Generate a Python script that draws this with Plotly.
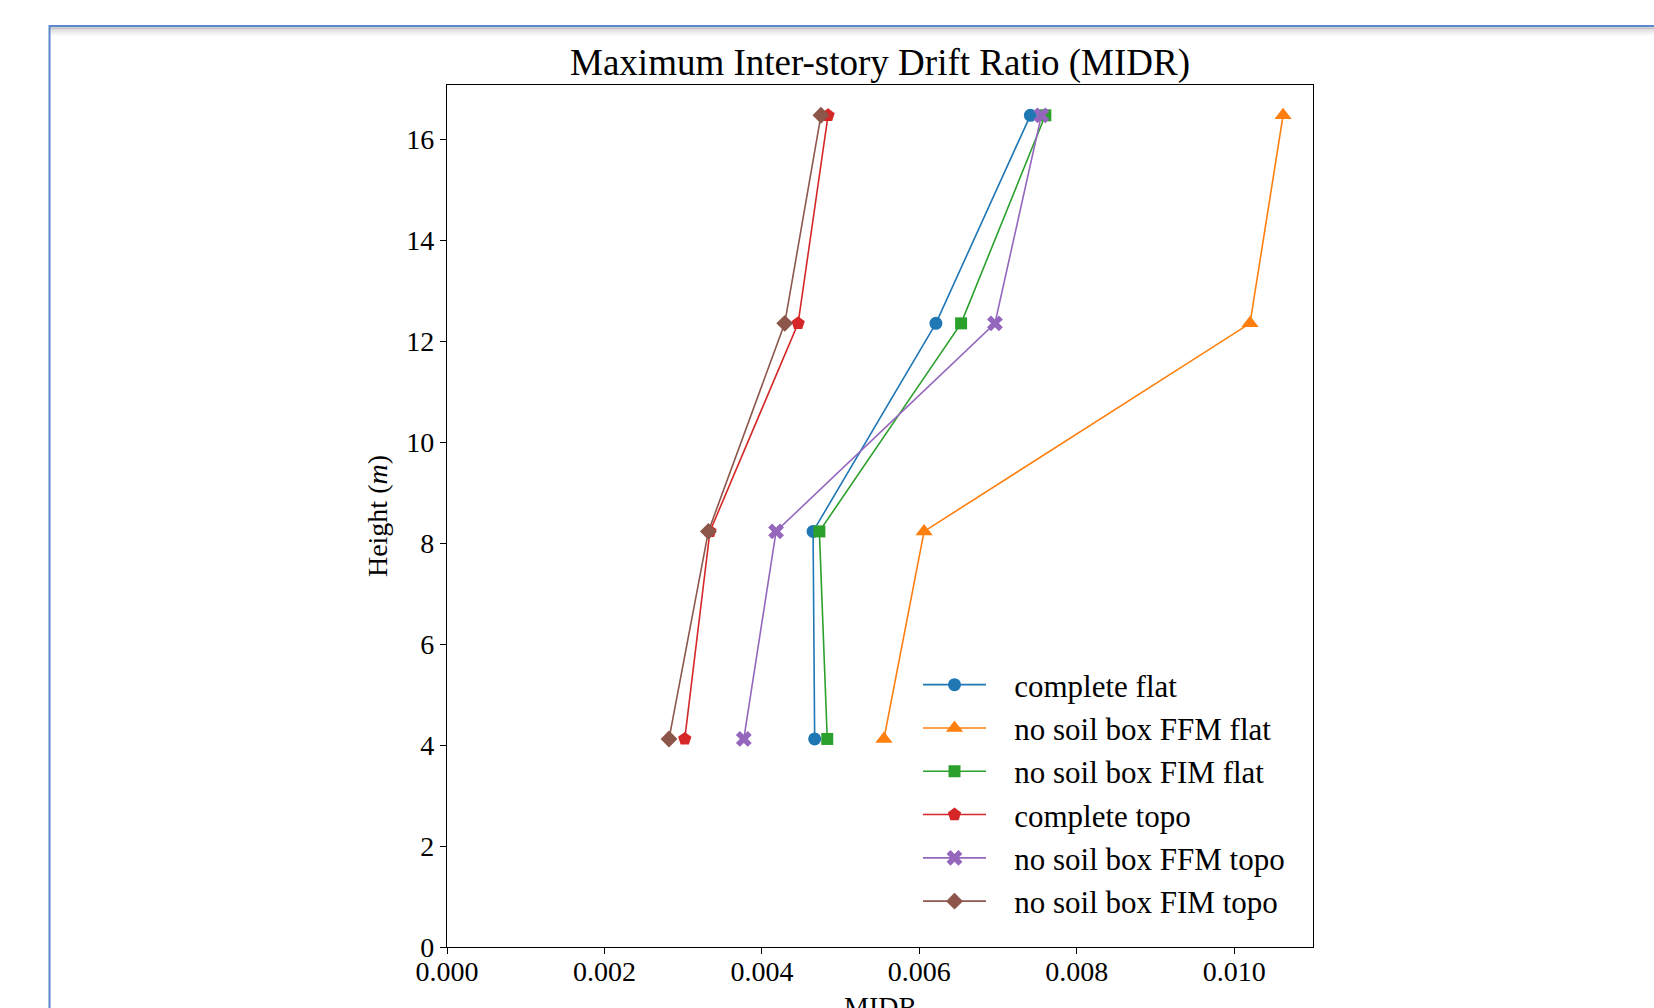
import plotly.graph_objects as go

# ---- data ----
heights = [4.12, 8.23, 12.35, 16.47]
complete_flat = [0.00467, 0.00465, 0.00621, 0.00741]
ffm_flat = [0.00555, 0.00606, 0.01020, 0.01062]
fim_flat = [0.00483, 0.00473, 0.00653, 0.00760]
complete_topo = [0.00302, 0.00334, 0.00446, 0.00484]
ffm_topo = [0.00377, 0.00418, 0.00696, 0.00755]
fim_topo = [0.00282, 0.00332, 0.00429, 0.00475]

series_names = ["complete flat", "no soil box FFM flat", "no soil box FIM flat",
                "complete topo", "no soil box FFM topo", "no soil box FIM topo"]
series_values = [complete_flat, ffm_flat, fim_flat, complete_topo, ffm_topo, fim_topo]
colors = ["#1f77b4", "#ff7f0e", "#2ca02c", "#d62728", "#9467bd", "#8c564b"]
symbols = ["circle", "triangle-up", "square", "pentagon", "x", "diamond"]
msizes = [13, 15, 12, 14, 14, 13]

x_ticks = [0.0, 0.002, 0.004, 0.006, 0.008, 0.010]
x_tick_labels = ["0.000", "0.002", "0.004", "0.006", "0.008", "0.010"]
y_ticks = [0, 2, 4, 6, 8, 10, 12, 14, 16]

FONT = "Liberation Serif"
W, H = 1654, 1008
L, R, T, B = 447, 1313, 85, 947
GAP = "\u00a0\u00a0\u00a0"

fig = go.Figure()
for name, vals, c, s, ms in zip(series_names, series_values, colors, symbols, msizes):
    fig.add_trace(go.Scatter(
        x=vals, y=heights, mode="lines+markers", name=GAP + name,
        line=dict(color=c, width=1.6),
        marker=dict(symbol=s, size=ms, color=c, line=dict(width=0)),
    ))

def px_x(p):
    return (p - L) / (R - L)

def px_y(p):
    return (B - p) / (B - T)

shapes = []
# page frame (blue) with soft shadow under top edge
for i, op in enumerate([0.18, 0.12, 0.08, 0.05, 0.03]):
    shapes.append(dict(type="line", xref="paper", yref="paper",
                       x0=px_x(50), x1=px_x(1660), y0=px_y(28 + i * 1.6), y1=px_y(28 + i * 1.6),
                       line=dict(color="rgba(0,0,0,%.2f)" % op, width=2)))
shapes.append(dict(type="line", xref="paper", yref="paper",
                   x0=px_x(49.5), x1=px_x(1660), y0=px_y(26), y1=px_y(26),
                   line=dict(color="#5a88cc", width=2)))
shapes.append(dict(type="line", xref="paper", yref="paper",
                   x0=px_x(49.5), x1=px_x(49.5), y0=px_y(25), y1=px_y(1015),
                   line=dict(color="#5a88cc", width=2)))

fig.update_layout(
    width=W, height=H,
    margin=dict(l=L, r=W - R, t=T, b=H - B, autoexpand=False),
    paper_bgcolor="white", plot_bgcolor="white",
    font=dict(family=FONT, size=28, color="black"),
    title=dict(text="Maximum Inter-story Drift Ratio (MIDR)",
               x=0.5, xref="paper", xanchor="center",
               y=1 - 62 / H, yref="container", yanchor="middle",
               font=dict(family=FONT, size=37, color="black")),
    xaxis=dict(range=[0, 0.011], tickvals=x_ticks, ticktext=x_tick_labels,
               showgrid=False, zeroline=False, showline=True, linecolor="black",
               linewidth=1.2, mirror=True, ticks="outside", ticklen=6, tickwidth=1.2,
               tickcolor="black", tickfont=dict(family=FONT, size=28),
               ticklabelstandoff=-7, automargin=False),
    yaxis=dict(range=[0, 17.07], tickvals=y_ticks,
               showgrid=False, zeroline=False, showline=True, linecolor="black",
               linewidth=1.2, mirror=True, ticks="outside", ticklen=6, tickwidth=1.2,
               tickcolor="black", tickfont=dict(family=FONT, size=28),
               title=dict(text="Height (<i>m</i>)", standoff=10, font=dict(family=FONT, size=28)),
               automargin=False),
    legend=dict(x=px_x(918), y=px_y(658), xanchor="left", yanchor="top",
                bgcolor="rgba(0,0,0,0)", borderwidth=0,
                font=dict(family=FONT, size=31), itemwidth=63),
    annotations=[dict(text="MIDR", xref="paper", yref="paper", x=0.5, y=px_y(1006),
                      xanchor="center", yanchor="middle", showarrow=False,
                      font=dict(family=FONT, size=28, color="black"))],
    shapes=shapes,
    showlegend=True,
)

fig.write_html("out.html")
